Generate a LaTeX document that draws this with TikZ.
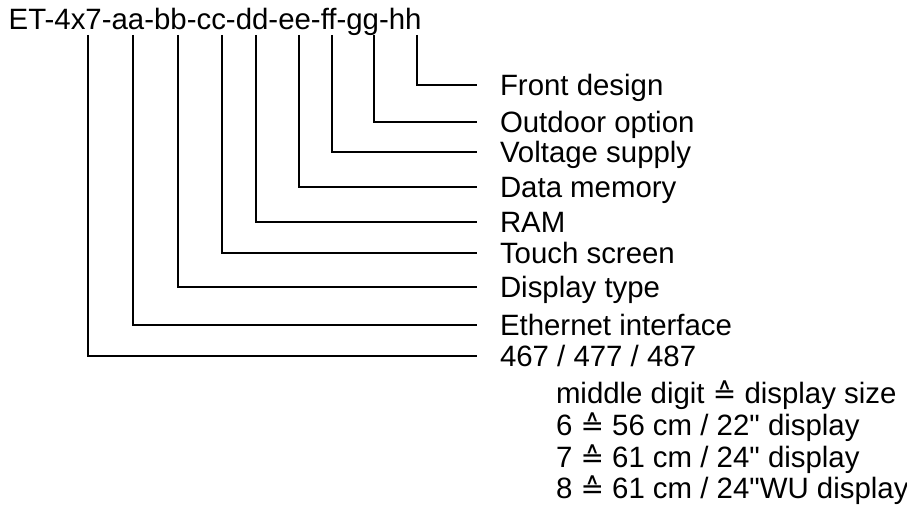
\documentclass[tikz,border=0pt]{standalone}
\usepackage{fontspec}
\setmainfont{Liberation Sans}
\newfontfamily\symfont{DejaVu Sans}
\newcommand{\corr}{{\symfont\fontsize{28}{32}\selectfont ≙}}
\newcommand{\inch}{\textquotedbl}
\begin{document}
\begin{tikzpicture}[x=1pt,y=-1pt,
  every node/.style={inner sep=0pt, outer sep=0pt, font=\fontsize{29.4}{34}\selectfont},
  lbl/.style={anchor=west, text height=21pt, text depth=0pt},
  sub/.style={anchor=base west},
  conn/.style={draw=black, line width=1.2pt}]
\useasboundingbox (0,0) rectangle (907,511);
\node[anchor=base west] (title) at (8.7,30) {ET-4x7-aa-bb-cc-dd-ee-ff-gg-hh};
% top ends of the connectors
\coordinate (t1) at (88,35);
\coordinate (t2) at (133,35);
\coordinate (t3) at (178,35);
\coordinate (t4) at (222,35);
\coordinate (t5) at (256,35);
\coordinate (t6) at (299,35);
\coordinate (t7) at (332,35);
\coordinate (t8) at (374,35);
\coordinate (t9) at (417,35);
% labels
\node[lbl] (l9) at (500,85) {Front design};
\node[lbl] (l8) at (500,122) {Outdoor option};
\node[lbl] (l7) at (500,152) {Voltage supply};
\node[lbl] (l6) at (500,187) {Data memory};
\node[lbl] (l5) at (500,222) {RAM};
\node[lbl] (l4) at (500,253) {Touch screen};
\node[lbl] (l3) at (500,287) {Display type};
\node[lbl] (l2) at (500,325) {Ethernet interface};
\node[lbl] (l1) at (500,356) {467 / 477 / 487};
\node[sub] (s1) at (556,403) {middle digit \corr{} display size};
\node[sub] (s2) at (556,435) {6 \corr{} 56 cm / 22\inch{} display};
\node[sub] (s3) at (556,467) {7 \corr{} 61 cm / 24\inch{} display};
\node[sub] (s4) at (556,498) {8 \corr{} 61 cm / 24\inch{}WU display};
% connectors
\foreach \i in {1,...,9}{
  \draw[conn] (t\i) |- ([xshift=-23pt]l\i.west);
}
\end{tikzpicture}
\end{document}
